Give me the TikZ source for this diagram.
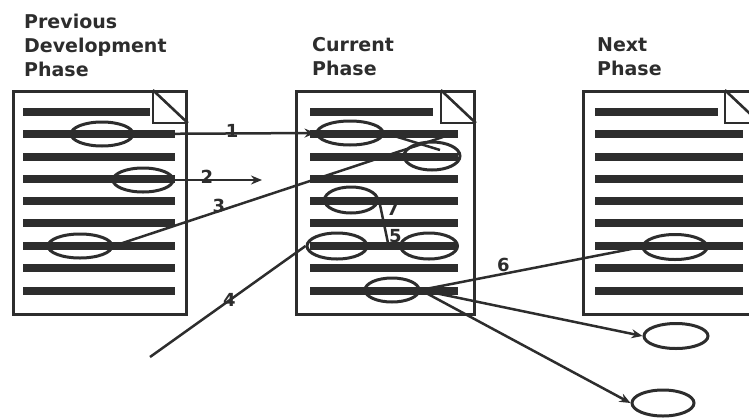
\documentclass[tikz,border=0pt]{standalone}
\usepackage{fontspec}
\setmainfont{DejaVu Sans}
\usetikzlibrary{shapes.geometric,arrows.meta,calc}
\definecolor{ink}{RGB}{45,45,45}
\begin{document}
\begin{tikzpicture}[x=1pt,y=-1pt,
  docframe/.style={draw=ink,line width=2.8pt,rectangle,inner sep=0pt,anchor=north west,minimum height=223pt},
  txtbar/.style={draw=ink,line width=8pt},
  foldline/.style={draw=ink,line width=2.6pt},
  oval/.style={ellipse,draw=ink,line width=3pt,inner sep=0pt,minimum height=24pt},
  conn/.style={draw=ink,line width=2.5pt},
  tip/.style={-{Stealth[length=11pt,width=9pt]}},
  lbl/.style={text=ink,font=\bfseries\fontsize{18}{18}\selectfont,inner sep=0pt},
  title/.style={text=ink,font=\bfseries\fontsize{19}{24}\selectfont,align=left,anchor=north west,inner sep=0pt}]
\clip (0,0) rectangle (749,418);
\useasboundingbox (0,0) rectangle (749,418);
% titles
\node[title] (tprev) at (24,14) {Previous\\Development\\Phase};
\node[title] (tcur) at (312,37) {Current\\Phase};
\node[title] (tnext) at (597,37) {Next\\Phase};
% documents
\node[docframe,minimum width=173pt] (dprev) at (12,90) {};
\node[docframe,minimum width=178pt] (dcur) at (295,90) {};
\node[docframe,minimum width=175pt] (dnext) at (582,90) {};
\foreach \d in {dprev,dcur,dnext}{
  \draw[foldline] ($(\d.north east)+(-35,0)$) |- ($(\d.north east)+(0,33)$);
  \draw[foldline] ($(\d.north east)+(-35,0)$) -- ($(\d.north east)+(0,33)$);
}
\foreach \xa/\xb in {23/175,310/458,595/743}{
  \draw[txtbar] (\xa,112) -- (\xb-25,112);
  \foreach \y in {134,157,179,201,223,246,268,291}
    \draw[txtbar] (\xa,\y) -- (\xb,\y);
}
% ovals
\node[oval,minimum width=62pt] (E1) at (102,134) {};
\node[oval,minimum width=60pt] (E2) at (143,180) {};
\node[oval,minimum width=64pt] (E3) at (80,246) {};
\node[oval,minimum width=66pt] (M1) at (350,133) {};
\node[oval,minimum width=56pt,minimum height=28pt] (M2) at (432,156) {};
\node[oval,minimum width=53pt,minimum height=26pt] (M3) at (351,200) {};
\node[oval,minimum width=60pt,minimum height=26pt] (M4) at (337,246) {};
\node[oval,minimum width=57pt,minimum height=26pt] (M5) at (429,246) {};
\node[oval,minimum width=54pt] (M6) at (392,290) {};
\node[oval,minimum width=64pt,minimum height=25pt] (R1) at (675,247) {};
\node[oval,minimum width=64pt,minimum height=25pt] (I1) at (676,336) {};
\node[oval,minimum width=62pt,minimum height=26pt] (I2) at (663,403) {};
% free ends
\coordinate (c2) at (262,180);
\coordinate (c3) at (443,137);
\coordinate (cx) at (440,150);
\coordinate (c4) at (150,357);
\coordinate (c5) at (388,243);
% connectors
\draw[conn,tip] (E1.east) -- node[lbl,pos=0.54,yshift=3pt]{1} (M1.west);
\draw[conn,tip] (E2.east) -- node[lbl,pos=0.37,yshift=3pt]{2} (c2);
\draw[conn] (E3.east) -- node[lbl,pos=0.32,yshift=5pt]{3} (c3);
\draw[conn] (M1.east) -- (cx);
\draw[conn] (M4.west) -- node[lbl,pos=0.49]{4} (c4);
\draw[conn] (M3.east) -- node[lbl,pos=0.2,xshift=12pt]{7} node[lbl,pos=0.83,xshift=9pt]{5} (c5);
\draw[conn] (M6.east) -- node[lbl,pos=0.375,yshift=9pt]{6} (R1.west);
\draw[conn,tip] (M6.east) -- (I1.west);
\draw[conn,tip] (M6.east) -- (I2.west);
\end{tikzpicture}
\end{document}
